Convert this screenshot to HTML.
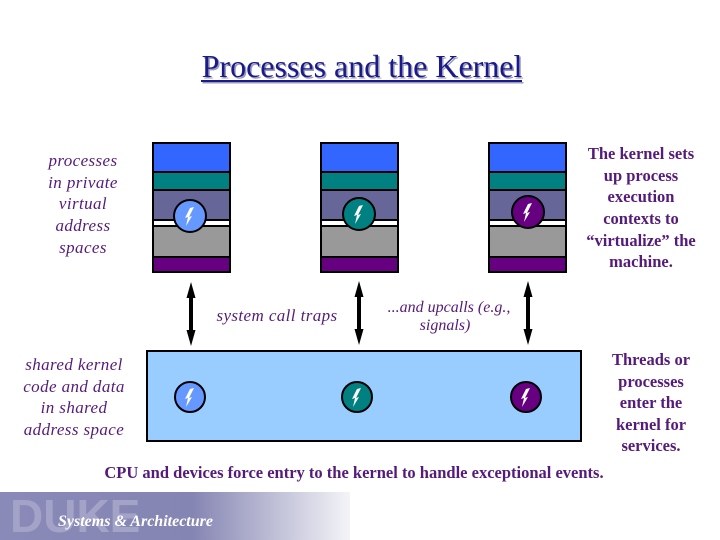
<!DOCTYPE html>
<html><head><meta charset="utf-8"><style>
body{margin:0;background:#fff;}
svg{display:block;}
.it{font-family:"Liberation Serif",serif;font-style:italic;font-size:17px;letter-spacing:0.4px;fill:#551a7a;}
.b{font-family:"Liberation Serif",serif;font-weight:bold;font-size:16.5px;fill:#551a7a;}
</style></head><body>
<svg width="720" height="540" viewBox="0 0 720 540" xmlns="http://www.w3.org/2000/svg">
<defs>
<linearGradient id="g" x1="0" x2="1" y1="0" y2="0">
<stop offset="0" stop-color="#8a8ab8"/><stop offset="0.55" stop-color="#8585b3"/><stop offset="1" stop-color="#f4f4f8"/>
</linearGradient>
<g id="stack">
<rect x="0" y="0" width="79" height="131" fill="#000"/>
<rect x="2" y="2" width="75" height="27" fill="#3366ff"/>
<rect x="2" y="31" width="75" height="16" fill="#008080"/>
<rect x="2" y="49" width="75" height="28" fill="#666699"/>
<rect x="2" y="79" width="75" height="4" fill="#fff"/>
<rect x="2" y="85" width="75" height="29" fill="#999999"/>
<rect x="2" y="116" width="75" height="13" fill="#660080"/>
</g>
<polygon id="bolt" points="4,-9 -1,1 2,0 -4,10 -2,1 -5,2 0,-8" fill="#fff"/>
<g id="arr">
<line x1="0" y1="10" x2="0" y2="54" stroke="#000" stroke-width="4"/>
<polygon points="0,0 -4.5,16 4.5,16" fill="#000"/>
<polygon points="0,64 -4.5,48 4.5,48" fill="#000"/>
</g>
</defs>
<text x="362" y="77" text-anchor="middle" font-family="Liberation Serif,serif" font-size="32" fill="#9999bb" transform="translate(1.5,1.5)">Processes and the Kernel</text>
<text x="362" y="77" text-anchor="middle" font-family="Liberation Serif,serif" font-size="32" fill="#1a1a8a">Processes and the Kernel</text>
<rect x="201" y="80" width="321" height="2" fill="#1a1a8a"/>
<rect x="202.5" y="82" width="321" height="1.5" fill="#9999bb"/>

<use href="#stack" x="152" y="142"/>
<use href="#stack" x="320" y="142"/>
<use href="#stack" x="488" y="142"/>
<circle cx="190" cy="216" r="16" fill="#6699ff" stroke="#000" stroke-width="2"/>
<use href="#bolt" x="190" y="216"/>
<circle cx="359" cy="214" r="16" fill="#008080" stroke="#000" stroke-width="2"/>
<use href="#bolt" x="359" y="214"/>
<circle cx="528" cy="212" r="16" fill="#660080" stroke="#000" stroke-width="2"/>
<use href="#bolt" x="528" y="212"/>

<use href="#arr" x="191" y="282"/>
<use href="#arr" x="359" y="281"/>
<use href="#arr" x="528" y="281"/>

<rect x="147" y="351" width="434" height="90" fill="#99ccff" stroke="#000" stroke-width="2"/>
<circle cx="190" cy="397" r="15" fill="#6699ff" stroke="#000" stroke-width="2"/>
<use href="#bolt" x="190" y="397"/>
<circle cx="357" cy="397" r="15" fill="#008080" stroke="#000" stroke-width="2"/>
<use href="#bolt" x="357" y="397"/>
<circle cx="526" cy="397" r="15" fill="#660080" stroke="#000" stroke-width="2"/>
<use href="#bolt" x="526" y="397"/>

<g class="it" text-anchor="middle">
<text x="83" y="166">processes</text>
<text x="83" y="188">in private</text>
<text x="83" y="209">virtual</text>
<text x="83" y="231">address</text>
<text x="83" y="253">spaces</text>
<text x="277" y="321">system call traps</text>
<text x="449" y="312" style="letter-spacing:0;font-size:16px">...and upcalls (e.g.,</text>
<text x="445" y="330" style="letter-spacing:0;font-size:16px">signals)</text>
<text x="74" y="370">shared kernel</text>
<text x="74" y="392">code and data</text>
<text x="74" y="413">in shared</text>
<text x="74" y="435">address space</text>
</g>
<g class="b" text-anchor="middle">
<text x="641" y="159">The kernel sets</text>
<text x="641" y="181">up process</text>
<text x="641" y="202">execution</text>
<text x="641" y="224">contexts to</text>
<text x="641" y="246">“virtualize” the</text>
<text x="641" y="267">machine.</text>
<text x="651" y="365">Threads or</text>
<text x="651" y="387">processes</text>
<text x="651" y="408">enter the</text>
<text x="651" y="430">kernel for</text>
<text x="651" y="451">services.</text>
<text x="354" y="478">CPU and devices force entry to the kernel to handle exceptional events.</text>
</g>

<rect x="0" y="492" width="350" height="48" fill="url(#g)"/>
<text x="10" y="532" font-family="Liberation Sans,sans-serif" font-weight="bold" font-size="46" fill="#a3a3c8">DUKE</text>
<text x="58" y="526" font-family="Liberation Serif,serif" font-style="italic" font-weight="bold" font-size="16" fill="#ffffff">Systems &amp; Architecture</text>
</svg>
</body></html>
